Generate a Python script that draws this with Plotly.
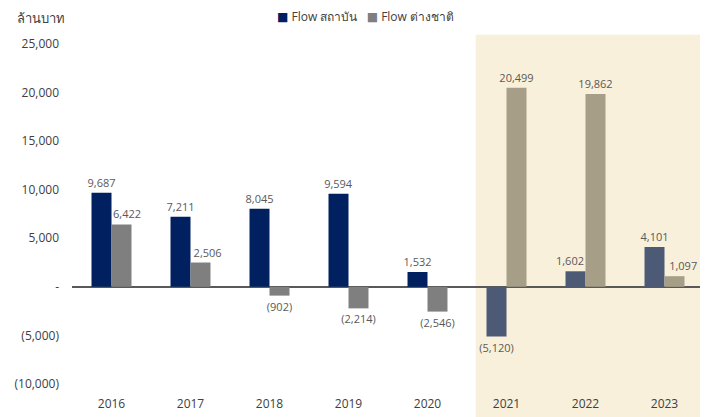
import plotly.graph_objects as go

years = ["2016", "2017", "2018", "2019", "2020", "2021", "2022", "2023"]
inst = [9687, 7211, 8045, 9594, 1532, -5120, 1602, 4101]
foreign = [6422, 2506, -902, -2214, -2546, 20499, 19862, 1097]
highlight = ["2021", "2022", "2023"]

y_ticks = [25000, 20000, 15000, 10000, 5000, 0, -5000, -10000]
y_tick_text = ["25,000", "20,000", "15,000", "10,000", "5,000", "-", "(5,000)", "(10,000)"]

series_names = ["Flow สถาบัน", "Flow ต่างชาติ"]


def fmt(v):
    return f"({abs(v):,})" if v < 0 else f"{v:,}"


inst_colors = ["#4c5a76" if y in highlight else "#002060" for y in years]
for_colors = ["#a69e86" if y in highlight else "#7f7f7f" for y in years]

font_family = "Open Sans, Noto Sans, DejaVu Sans, sans-serif"
BAR_W = 0.253
# small horizontal nudges of data labels (category units) to avoid overlaps
inst_label_nudge = [0, 0, 0, 0, 0, 0, -0.07, 0]
for_label_nudge = [0.07, 0.09, 0, 0, 0, 0, 0, 0.11]

fig = go.Figure()
# bars
for name, vals, cols, off in [(series_names[0], inst, inst_colors, -BAR_W),
                              (series_names[1], foreign, for_colors, 0)]:
    fig.add_trace(go.Bar(
        name=name, x=years, y=vals, width=BAR_W, offset=off,
        marker=dict(color=cols, line=dict(width=0)),
        hoverinfo="x+y",
    ))
# labels on top of all bars
for vals, off, nudge in [(inst, -BAR_W, inst_label_nudge), (foreign, 0, for_label_nudge)]:
    fig.add_trace(go.Bar(
        x=years, y=vals, width=BAR_W, offset=[off + n for n in nudge],
        marker=dict(color="rgba(0,0,0,0)", line=dict(width=0)),
        text=[fmt(v) for v in vals], textposition="outside", constraintext="none",
        textfont=dict(size=11, color="#595959"), cliponaxis=False,
        hoverinfo="skip", showlegend=False,
    ))

fig.add_shape(type="rect", xref="x", yref="paper",
              x0=4.61, x1=7.475, y0=-0.2, y1=1.027,
              fillcolor="#f8f0db", line=dict(width=0), layer="below")

fig.add_annotation(text="ล้านบาท", xref="paper", yref="paper",
                   x=-0.09, y=1.077, xanchor="left", yanchor="middle",
                   showarrow=False, font=dict(size=13, color="#404040", family=font_family))

legend_text = ("<span style='color:#002060'>■</span> " + series_names[0] +
               "   <span style='color:#7f7f7f'>■</span> " + series_names[1])
fig.add_annotation(text=legend_text, xref="paper", yref="paper",
                   x=0.464, y=1.08, xanchor="center", yanchor="middle",
                   showarrow=False, font=dict(size=12, color="#404040", family=font_family))

fig.update_layout(
    width=708, height=417,
    margin=dict(l=64, r=12, t=36, b=41, autoexpand=False),
    paper_bgcolor="white", plot_bgcolor="rgba(0,0,0,0)",
    barmode="overlay",
    font=dict(family=font_family, size=12, color="#404040"),
    showlegend=False,
)
fig.update_xaxes(showgrid=False, showline=False, ticks="", ticklabelstandoff=11,
                 tickfont=dict(size=12, color="#404040"))
fig.update_yaxes(range=[-10000, 25000], tickvals=y_ticks, ticktext=y_tick_text,
                 showgrid=False, zeroline=True, zerolinecolor="#595959", zerolinewidth=1.5,
                 showline=False, ticks="", ticklabelstandoff=12,
                 tickfont=dict(size=12, color="#404040"))

fig.write_html("out.html")
